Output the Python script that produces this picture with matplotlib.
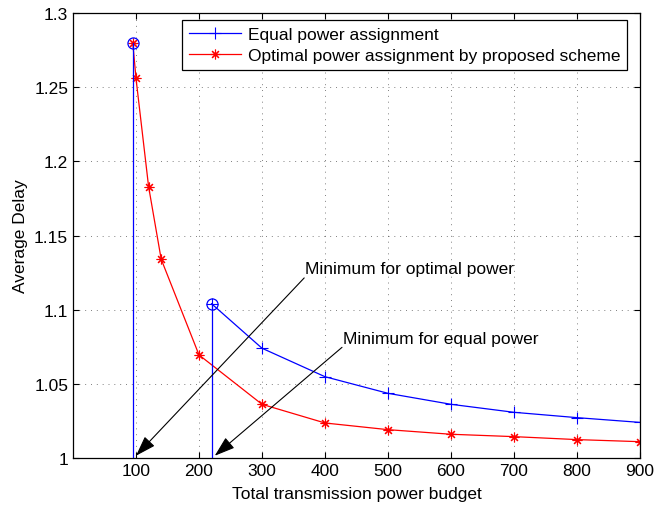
import matplotlib
matplotlib.use('Agg')
import matplotlib.pyplot as plt

plt.rcParams['font.family'] = ['Liberation Sans', 'DejaVu Sans']

# Equal power assignment
eq_x = [220, 300, 400, 500, 600, 700, 800, 900]
eq_y = [1.1040, 1.0740, 1.0548, 1.0436, 1.0362, 1.0308, 1.0272, 1.0240]

# Optimal power assignment
opt_x = [95, 100, 120, 140, 200, 300, 400, 500, 600, 700, 800, 900]
opt_y = [1.2795, 1.2560, 1.1830, 1.1340, 1.0695, 1.0362, 1.0236, 1.0191,
         1.0160, 1.0144, 1.0124, 1.0110]

# minimum feasible budgets (stems)
min_opt = (95, 1.2795)
min_eq = (220, 1.1040)

fig = plt.figure(figsize=(6.54, 5.06), dpi=100)
ax = fig.add_axes([0.1116, 0.0929, 0.8670, 0.8794])

ax.plot(eq_x, eq_y, color='blue', marker='+', markersize=8, lw=0.9,
        mew=0.8, label='Equal power assignment')
ax.plot(opt_x, opt_y, color='red', marker=(8, 2, 0), markersize=7, lw=0.9,
        mew=0.8, label='Optimal power assignment by proposed scheme')

# stems for the minimum points
for px, py in [min_opt, min_eq]:
    ax.plot([px, px], [1.0, py], color='blue', lw=0.9)
    ax.plot(px, py, marker='o', markersize=8, mfc='none', mec='blue', mew=0.9)

# annotations: arrow then text next to its tail
arrows = [((100, 1.0015), (367, 1.1214), 'Minimum for optimal power', (369, 1.1275)),
          ((225, 1.0015), (427, 1.0746), 'Minimum for equal power', (429, 1.0805))]
for head, tail, txt, tpos in arrows:
    ax.annotate('', xy=head, xytext=tail,
                arrowprops=dict(arrowstyle='-|>,head_length=0.9,head_width=0.3',
                                color='black', lw=0.8,
                                mutation_scale=14, shrinkA=0, shrinkB=0))
    ax.text(tpos[0], tpos[1], txt, fontsize=12.5, va='center', ha='left')

ax.set_xlim(0, 900)
ax.set_ylim(1, 1.3)
ax.set_xticks([100, 200, 300, 400, 500, 600, 700, 800, 900])
ax.set_yticks([1, 1.05, 1.1, 1.15, 1.2, 1.25, 1.3])
ax.set_yticklabels(['1', '1.05', '1.1', '1.15', '1.2', '1.25', '1.3'])
ax.tick_params(direction='in', top=True, right=True, labelsize=12.5, length=4)
ax.grid(True, linestyle=(0, (1, 5)), color='black', lw=0.7, alpha=0.5)
for s in ax.spines.values():
    s.set_linewidth(0.9)

ax.set_xlabel('Total transmission power budget', fontsize=12.5, labelpad=6)
ax.set_ylabel('Average Delay', fontsize=12.5, labelpad=4)

leg = ax.legend(loc='upper right', bbox_to_anchor=(0.977, 0.984), fontsize=12.5,
                fancybox=False, edgecolor='black', framealpha=1,
                borderaxespad=0, handlelength=3.0, borderpad=0.4,
                labelspacing=0.3, handletextpad=0.35)
leg.get_frame().set_linewidth(0.9)

plt.savefig('out.png')
